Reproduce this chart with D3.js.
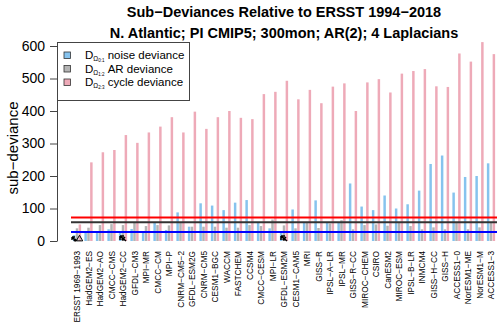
<!DOCTYPE html>
<html><head><meta charset="utf-8">
<script src="https://cdn.jsdelivr.net/npm/d3@7"></script>
<style>body{margin:0;background:#fff}svg{display:block;font-family:"Liberation Sans",Arial,sans-serif}</style>
</head><body><svg id="c" width="500" height="324"></svg>
<script>
const categories = ["ERSST 1969\u22121993","HadGEM2\u2212ES","HadGEM2\u2212AO","CMCC\u2212CMS","HadGEM2\u2212CC","GFDL\u2212CM3","MPI\u2212MR","CMCC\u2212CM","MPI\u2212P","CNRM\u2212CM5\u22122","GFDL\u2212ESM2G","CNRM\u2212CM5","CESM1\u2212BGC","WACCM","FASTCHEM","CCSM4","CMCC\u2212CESM","MPI\u2212LR","GFDL\u2212ESM2M","CESM1\u2212CAM5","MRI","GISS\u2212R","IPSL\u2212A\u2212LR","IPSL\u2212MR","GISS\u2212R\u2212CC","MIROC\u2212CHEM","CSIRO","CanESM2","MIROC\u2212ESM","IPSL\u2212B\u2212LR","INMCM4","GISS\u2212H\u2212CC","GISS\u2212H","ACCESS1\u22120","NorESM1\u2212ME","NorESM1\u2212M","ACCESS1\u22123"];
const noiseDev = [18,30,30,36,30,37,28,57,34,88,44,116,109,95,118,126,57,39,25,97,58,125,57,57,177,106,95,140,100,113,155,237,263,149,197,200,239];
const arDev    = [39,41,49,52,49,56,46,49,48,56,44,44,44,41,41,49,46,66,48,39,57,40,54,64,36,49,51,47,57,46,36,42,36,57,36,42,57];
const cycleDev = [51,242,273,280,326,302,334,352,381,334,398,345,381,400,379,375,452,459,493,436,465,424,475,485,400,488,498,457,515,523,529,476,474,577,552,612,575];
const refLines = [{name:"cycle",value:72,color:"#ff0000"},{name:"ar",value:58,color:"#333333"},{name:"noise",value:28,color:"#0000ff"}];
const yTicks = [0,100,200,300,400,500,600];
const seriesNames = ["noise","ar","cycle"];
const seriesColors = {noise:"#86c3ee",ar:"#b4b4b4",cycle:"#eeaab8"};
const legendItems = [{key:"noise",sub:"0:1",label:" noise deviance"},{key:"ar",sub:"1:2",label:" AR deviance"},{key:"cycle",sub:"2:3",label:" cycle deviance"}];
const markerGroups = [{cat:0,type:"tri"},{cat:4,type:"arrow"},{cat:18,type:"arrow"}];
const titleLines = ["Sub\u2212Deviances Relative to ERSST 1994\u22122018","N. Atlantic; PI CMIP5; 300mon; AR(2); 4 Laplacians"];

const svg = d3.select("#c");
const y = d3.scaleLinear().domain([0,600]).range([241,46]);
const x = d3.scaleBand().domain(categories).range([71.25,496.75]).paddingInner(0.25).paddingOuter(0.125);
const xs = d3.scaleBand().domain(seriesNames).range([0,x.bandwidth()]);

const data = categories.map((c,i)=>({cat:c,noise:noiseDev[i],ar:arDev[i],cycle:cycleDev[i]}));

const g = svg.append("g");
g.selectAll("g.grp").data(data).join("g").attr("class","grp")
 .attr("transform",d=>`translate(${x(d.cat)},0)`)
 .selectAll("rect").data(d=>seriesNames.map(s=>({s,v:d[s]}))).join("rect")
 .attr("x",d=>xs(d.s)+0.2).attr("width",xs.bandwidth()-0.4)
 .attr("y",d=>y(d.v)).attr("height",d=>y(0)-y(d.v))
 .attr("fill",d=>seriesColors[d.s]);

// reference lines
refLines.forEach(l=>{
  svg.append("line").attr("x1",71).attr("x2",497).attr("y1",y(l.value)).attr("y2",y(l.value))
    .attr("stroke",l.color).attr("stroke-width",2);
});

// markers
markerGroups.forEach(m=>{
  const cx = x(categories[m.cat]) + x.bandwidth()/2;
  const cy = 239;
  const mg = svg.append("g").attr("transform",`translate(${cx},${cy})`);
  if(m.type==="tri"){
    mg.append("path").attr("d",d3.symbol(d3.symbolTriangle,18)()).attr("transform","translate(2.5,0)")
      .attr("fill","none").attr("stroke","#000").attr("stroke-width",1);
    mg.append("path").attr("d","M-1,2 L-5,-2 M-5,-2 L-5,1 M-5,-2 L-2,-2").attr("stroke","#000").attr("stroke-width",1.4).attr("fill","none");
    mg.append("circle").attr("cx",-2).attr("cy",1).attr("r",1.6).attr("fill","#000");
  } else {
    mg.append("path").attr("d","M3,2 L-3,-3 M-3,-3 L-3,1 M-3,-3 L1,-3 M-1,1 L2,-2").attr("stroke","#000").attr("stroke-width",1.5).attr("fill","none");
    mg.append("circle").attr("cx",0).attr("cy",0).attr("r",1.6).attr("fill","#000");
  }
});

// y axis
const ya = svg.append("g").attr("transform","translate(57,0)")
  .call(d3.axisLeft(y).tickValues(yTicks).tickSize(7).tickPadding(5).tickSizeOuter(0));
ya.select(".domain").attr("stroke","#444");
ya.selectAll(".tick line").attr("stroke","#444");
ya.selectAll("text").attr("font-size",14).attr("fill","#000").attr("font-family","Liberation Sans, Arial, sans-serif");

svg.append("text").attr("transform","translate(18,148) rotate(-90)").attr("text-anchor","middle")
  .attr("font-size",15).text("sub\u2212deviance");

// x labels
svg.append("g").selectAll("text").data(categories).join("text")
  .attr("transform",d=>`translate(${x(d)+x.bandwidth()/2+3},251) rotate(-90)`)
  .attr("text-anchor","end").attr("font-size",8.3).text(d=>d);

// title
svg.selectAll("text.title").data(titleLines).join("text").attr("class","title")
  .attr("x",284).attr("y",(d,i)=>17+i*21).attr("text-anchor","middle")
  .attr("font-weight","bold").attr("font-size",14.5).text(d=>d);

// legend
const lg = svg.append("g");
lg.append("rect").attr("x",57.5).attr("y",42.5).attr("width",132).attr("height",58)
  .attr("fill","#fff").attr("stroke","#444").attr("stroke-width",1);
legendItems.forEach((it,i)=>{
  const cy = 55 + i*13.5;
  lg.append("rect").attr("x",64).attr("y",cy-3).attr("width",6.5).attr("height",6.5)
    .attr("fill",seriesColors[it.key]).attr("stroke","#333").attr("stroke-width",0.8);
  const t = lg.append("text").attr("x",85).attr("y",cy+4).attr("font-size",11.5);
  t.append("tspan").text("D");
  t.append("tspan").attr("font-size",6.5).attr("dy",2).text("\u03a9");
  t.append("tspan").attr("font-size",4.5).attr("dy",1).text(it.sub);
  t.append("tspan").attr("font-size",11.5).attr("dy",-3).text(it.label);
});
</script></body></html>
